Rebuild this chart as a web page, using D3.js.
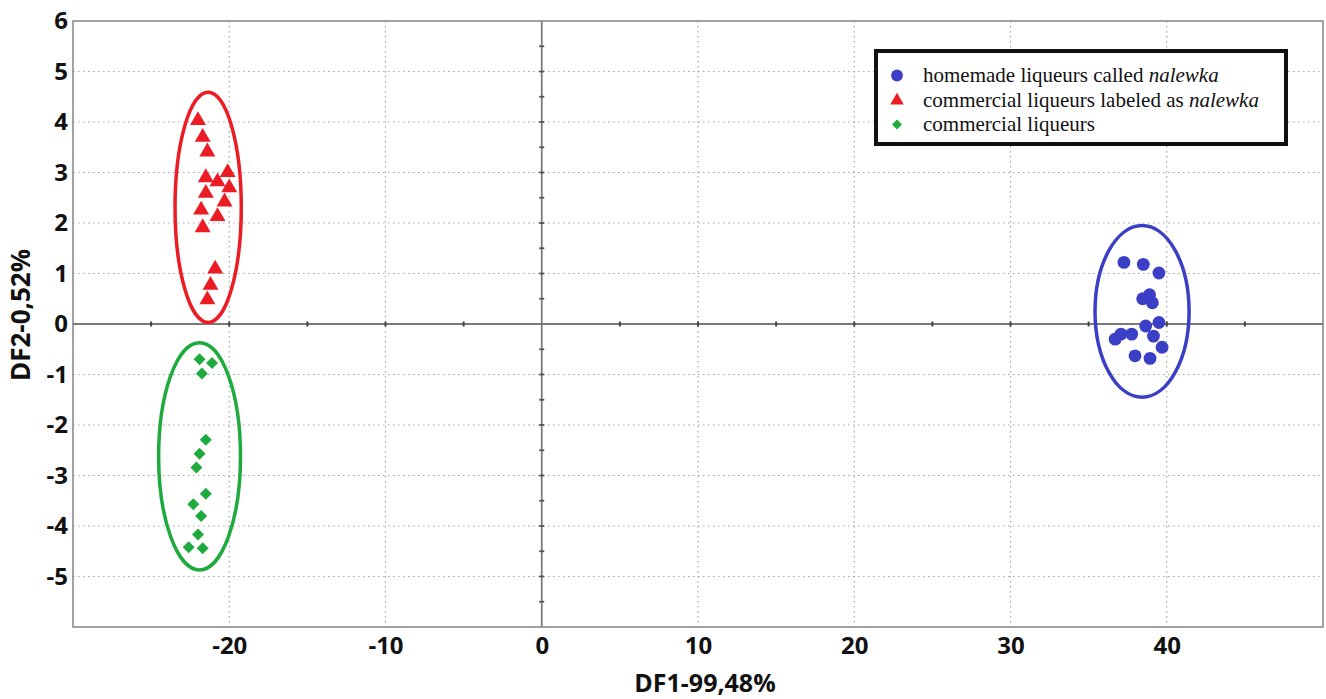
<!DOCTYPE html>
<html><head><meta charset="utf-8">
<script src="https://cdn.jsdelivr.net/npm/d3@7"></script>
<style>body{margin:0;background:#fff;} svg{display:block;}</style>
</head><body>
<svg id="chart" width="1326" height="699"></svg>
<script>
// ---- data ----
const xTicks = [-20, -10, 0, 10, 20, 30, 40];
const yTicks = [-5, -4, -3, -2, -1, 0, 1, 2, 3, 4, 5, 6];
const xLabel = "DF1-99,48%";
const yLabel = "DF2-0,52%";
const seriesNames = ["homemade liqueurs called ", "commercial liqueurs labeled as ", "commercial liqueurs"];
const seriesItalic = ["nalewka", "nalewka", ""];

const homemadeX = [37.26, 38.5, 39.5, 38.46, 38.9, 39.08, 39.5, 38.65, 37.07, 37.76, 36.7, 39.15, 39.7, 37.97, 38.93];
const homemadeY = [1.22, 1.18, 1.01, 0.50, 0.58, 0.42, 0.03, -0.04, -0.20, -0.20, -0.30, -0.24, -0.46, -0.63, -0.68];

const labeledX = [-22.0, -21.7, -21.4, -21.5, -20.1, -20.75, -20.0, -21.5, -20.3, -21.8, -20.75, -21.7, -20.9, -21.2, -21.4];
const labeledY = [4.03, 3.70, 3.41, 2.90, 3.00, 2.82, 2.70, 2.59, 2.42, 2.26, 2.13, 1.91, 1.09, 0.77, 0.48];

const commercialX = [-21.9, -21.1, -21.75, -21.5, -21.9, -22.1, -21.5, -22.3, -21.8, -22.0, -22.6, -21.7];
const commercialY = [-0.70, -0.77, -0.98, -2.29, -2.57, -2.84, -3.36, -3.57, -3.80, -4.17, -4.42, -4.44];

// confidence ellipses: centre x, centre y, radius x, radius y
const ellipseCX = [38.42, -21.35, -21.9];
const ellipseCY = [0.25, 2.31, -2.62];
const ellipseRX = [3.01, 2.12, 2.62];
const ellipseRY = [1.70, 2.28, 2.25];

const colors = ["#3b3fc6", "#ec1c24", "#1faa3e"];

// ---- chart ----
const svg = d3.select("#chart");
const L = 73, R = 1323, T = 21, B = 627;
const x = d3.scaleLinear().domain([-30, 50]).range([L, R]);
const y = d3.scaleLinear().domain([-6, 6]).range([B, T]);

const font = "'Open Sans', 'DejaVu Sans', sans-serif";
const fmt = d => String(d);

// grid
const grid = svg.append("g");
grid.selectAll("line.gx").data(xTicks.filter(d => d !== 0)).join("line")
  .attr("x1", d => x(d)).attr("x2", d => x(d)).attr("y1", T).attr("y2", B)
  .attr("stroke", "#a5a5a5").attr("stroke-width", 1.2).attr("stroke-dasharray", "1.5,3.5");
grid.selectAll("line.gy").data(yTicks.filter(d => d !== 0 && d !== 6)).join("line")
  .attr("x1", L).attr("x2", R).attr("y1", d => y(d)).attr("y2", d => y(d))
  .attr("stroke", "#a5a5a5").attr("stroke-width", 1.2).attr("stroke-dasharray", "1.5,3.5");

// frame
svg.append("rect").attr("x", L).attr("y", T).attr("width", R - L).attr("height", B - T)
  .attr("fill", "none").attr("stroke", "#8a8a8a").attr("stroke-width", 1.6);

// zero lines
svg.append("line").attr("x1", L).attr("x2", R).attr("y1", y(0)).attr("y2", y(0))
  .attr("stroke", "#7a7a7a").attr("stroke-width", 1.8);
svg.append("line").attr("x1", x(0)).attr("x2", x(0)).attr("y1", T).attr("y2", B)
  .attr("stroke", "#7a7a7a").attr("stroke-width", 1.8);

// small ticks on zero lines
const zx = d3.range(-25, 50, 5).filter(d => d !== 0);
svg.append("g").selectAll("line").data(zx).join("line")
  .attr("x1", d => x(d)).attr("x2", d => x(d)).attr("y1", y(0) - 2.5).attr("y2", y(0) + 2.5)
  .attr("stroke", "#444").attr("stroke-width", 2);
const zy = d3.range(-5.5, 6, 0.5).filter(d => d !== 0);
svg.append("g").selectAll("line").data(zy).join("line")
  .attr("x1", x(0) - 2.5).attr("x2", x(0) + 2.5).attr("y1", d => y(d)).attr("y2", d => y(d))
  .attr("stroke", "#555").attr("stroke-width", 1.8);

// axes (labels only)
const xAxis = d3.axisBottom(x).tickValues(xTicks).tickSize(0).tickPadding(10).tickFormat(fmt);
const gx = svg.append("g").attr("transform", `translate(0,${B})`).call(xAxis);
gx.select(".domain").remove();
gx.selectAll("text").attr("font-family", font).attr("font-weight", "bold").attr("font-size", 24).attr("fill", "#111");

const yAxis = d3.axisLeft(y).tickValues(yTicks).tickSize(0).tickPadding(5).tickFormat(fmt);
const gy = svg.append("g").attr("transform", `translate(${L},0)`).call(yAxis);
gy.select(".domain").remove();
gy.selectAll("text").attr("font-family", font).attr("font-weight", "bold").attr("font-size", 24).attr("fill", "#111");

svg.append("text").attr("x", 705).attr("y", 692).attr("text-anchor", "middle")
  .attr("font-family", font).attr("font-weight", "bold").attr("font-size", 25).attr("fill", "#111")
  .text(xLabel);
svg.append("text").attr("transform", "translate(30,315) rotate(-90)").attr("text-anchor", "middle")
  .attr("font-family", font).attr("font-weight", "bold").attr("font-size", 26).attr("fill", "#111")
  .text(yLabel);

// ellipses
svg.append("g").selectAll("ellipse").data(d3.range(3)).join("ellipse")
  .attr("cx", i => x(ellipseCX[i])).attr("cy", i => y(ellipseCY[i]))
  .attr("rx", i => x(ellipseRX[i]) - x(0)).attr("ry", i => y(0) - y(ellipseRY[i]))
  .attr("fill", "none").attr("stroke", (i) => colors[i]).attr("stroke-width", 3.5);

// points
const sets = [
  {xs: homemadeX, ys: homemadeY, shape: d3.symbolCircle, size: 130, rot: 0},
  {xs: labeledX, ys: labeledY, shape: d3.symbolTriangle, size: 110, rot: 0},
  {xs: commercialX, ys: commercialY, shape: d3.symbolSquare, size: 72, rot: 45},
];
sets.forEach((s, i) => {
  svg.append("g").selectAll("path").data(s.xs.map((v, j) => [v, s.ys[j]])).join("path")
    .attr("transform", d => `translate(${x(d[0])},${y(d[1])}) rotate(${s.rot})`)
    .attr("d", d3.symbol().type(s.shape).size(s.size))
    .attr("fill", colors[i]);
});

// legend
const lg = svg.append("g");
lg.append("rect").attr("x", 876).attr("y", 51).attr("width", 410).attr("height", 93)
  .attr("fill", "#fff").attr("stroke", "#111").attr("stroke-width", 4);
const rowsY = [75.5, 100.5, 124.5];
const shapes = [d3.symbolCircle, d3.symbolTriangle, d3.symbolSquare];
const lsizes = [110, 80, 50];
const lrot = [0, 0, 45];
d3.range(3).forEach(i => {
  lg.append("path").attr("transform", `translate(897,${rowsY[i]}) rotate(${lrot[i]})`)
    .attr("d", d3.symbol().type(shapes[i]).size(lsizes[i])).attr("fill", colors[i]);
  const t = lg.append("text").attr("x", 923).attr("y", rowsY[i] + 6)
    .attr("font-family", "'Liberation Serif', 'Times New Roman', serif").attr("font-size", 21).attr("fill", "#111");
  t.append("tspan").text(seriesNames[i]);
  if (seriesItalic[i]) t.append("tspan").attr("font-style", "italic").text(seriesItalic[i]);
});
</script>
</body></html>
